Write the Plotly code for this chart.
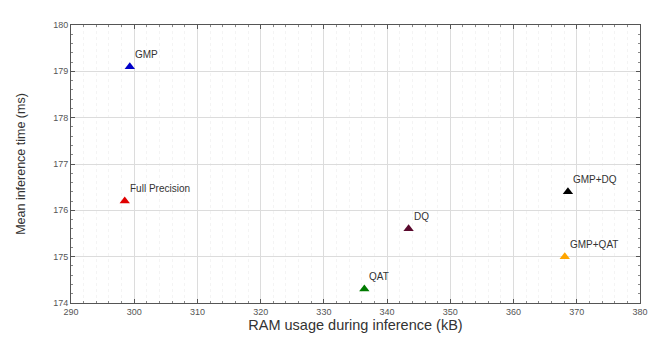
import plotly.graph_objects as go

methods = ["GMP", "Full Precision", "QAT", "DQ", "GMP+DQ", "GMP+QAT"]
ram_kb = [299.3, 298.5, 336.4, 343.4, 368.6, 368.1]
time_ms = [179.1, 176.2, 174.3, 175.6, 176.4, 175.0]
colors = ["#0000c8", "#e00000", "#007a00", "#5a0a2e", "#000000", "#ffa500"]

x_ticks = [290, 300, 310, 320, 330, 340, 350, 360, 370, 380]
y_ticks = [174, 175, 176, 177, 178, 179, 180]

FONT = "Liberation Sans, Arial"

fig = go.Figure()
for m, x, y, c in zip(methods, ram_kb, time_ms, colors):
    fig.add_trace(go.Scatter(
        x=[x], y=[y], mode="markers", name=m,
        marker=dict(symbol="triangle-up", size=9, color=c),
        showlegend=False,
    ))
    fig.add_annotation(x=x, y=y, text=m, showarrow=False,
                       xanchor="left", yanchor="bottom", xshift=3, yshift=5,
                       font=dict(size=10, color="#333333", family=FONT))

axis_common = dict(
    showline=True, linecolor="#555555", linewidth=1, mirror="ticks",
    ticks="inside", ticklen=4, tickcolor="#555555",
    showgrid=True, gridcolor="#dcdcdc", gridwidth=1,
    zeroline=False,
    tickfont=dict(size=9, color="#555555", family=FONT),
)

fig.update_xaxes(
    range=[290, 380], tickvals=x_ticks,
    title=dict(text="RAM usage during inference (kB)", standoff=3,
               font=dict(size=14.5, color="#333333", family=FONT)),
    minor=dict(dtick=2, ticks="inside", ticklen=2, tickcolor="#888888",
               showgrid=True, gridcolor="#f4f4f4", griddash="dot"),
    **axis_common,
)
fig.update_yaxes(
    range=[174, 180], tickvals=y_ticks,
    title=dict(text="Mean inference time (ms)", standoff=24,
               font=dict(size=12.5, color="#333333", family=FONT)),
    minor=dict(dtick=0.2, ticks="inside", ticklen=2, tickcolor="#888888",
               showgrid=False),
    **axis_common,
)

fig.update_layout(
    width=656, height=337,
    margin=dict(l=62, r=24, t=13, b=42),
    paper_bgcolor="white", plot_bgcolor="white",
)

fig.write_html("out.html")
